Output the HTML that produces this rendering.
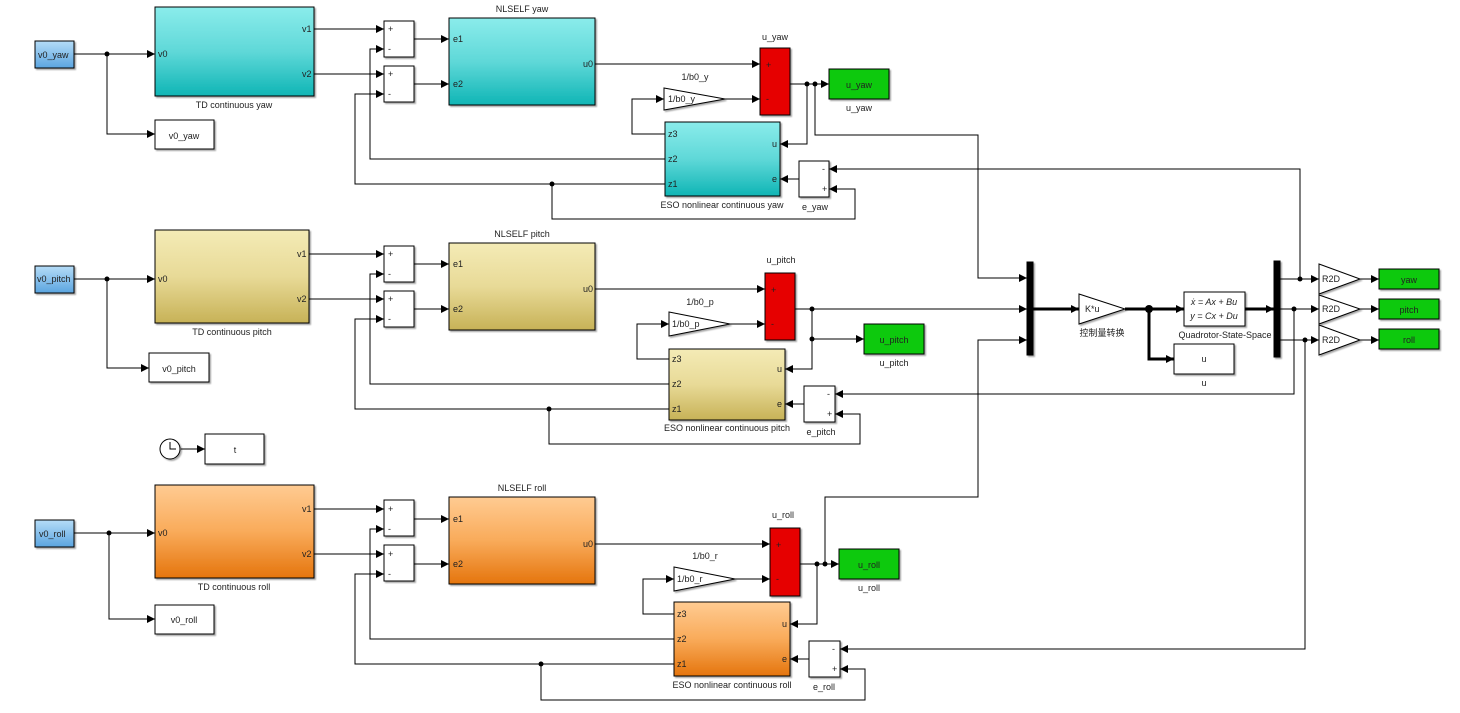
<!DOCTYPE html>
<html><head><meta charset="utf-8"><style>
html,body{margin:0;padding:0;background:#fff;width:1460px;height:713px;overflow:hidden}
svg text{font-family:"Liberation Sans","Noto Sans CJK SC",sans-serif;font-size:9px;fill:#222}
</style></head><body>
<svg width="1460" height="713" viewBox="0 0 1460 713" xmlns="http://www.w3.org/2000/svg">
<defs>
<marker id="a" markerUnits="userSpaceOnUse" markerWidth="9" markerHeight="9" refX="8" refY="4" orient="auto"><path d="M0,0 L8,4 L0,8 z" fill="#000"/></marker>
<linearGradient id="cy" x1="0" y1="0" x2="0" y2="1"><stop offset="0" stop-color="#8aeceb"/><stop offset="0.5" stop-color="#5fd8d8"/><stop offset="1" stop-color="#0fb5b5"/></linearGradient>
<linearGradient id="ye" x1="0" y1="0" x2="0" y2="1"><stop offset="0" stop-color="#f4ebb6"/><stop offset="0.5" stop-color="#e8da97"/><stop offset="1" stop-color="#c7b257"/></linearGradient>
<linearGradient id="or" x1="0" y1="0" x2="0" y2="1"><stop offset="0" stop-color="#ffcb92"/><stop offset="0.5" stop-color="#f9ab5a"/><stop offset="1" stop-color="#e5750d"/></linearGradient>
<linearGradient id="bl" x1="0" y1="0" x2="0" y2="1"><stop offset="0" stop-color="#b5dcf7"/><stop offset="1" stop-color="#5ba5e0"/></linearGradient>
<filter id="sh"><feDropShadow dx="1.5" dy="1.5" stdDeviation="0.8" flood-color="#000" flood-opacity="0.35"/></filter>
</defs>
<g stroke="#000" stroke-width="1" fill="none">
<!-- ===== YAW ===== -->
<path d="M74,54 H155" marker-end="url(#a)"/><path d="M107,54 V134 H155" marker-end="url(#a)"/>
<path d="M314,29 H384" marker-end="url(#a)"/><path d="M314,74 H384" marker-end="url(#a)"/>
<path d="M414,39 H449" marker-end="url(#a)"/><path d="M414,84 H449" marker-end="url(#a)"/>
<path d="M595,64 H760" marker-end="url(#a)"/>
<path d="M725,99 H760" marker-end="url(#a)"/>
<path d="M665,134 H632 V99 H664" marker-end="url(#a)"/>
<path d="M665,159 H370 V49 H384" marker-end="url(#a)"/>
<path d="M665,184 H355 V94 H384" marker-end="url(#a)"/>
<path d="M790,84 H829" marker-end="url(#a)"/>
<path d="M807,84 V144 H780" marker-end="url(#a)"/>
<path d="M815,84 V135 H978 V278 H1027" marker-end="url(#a)"/>
<path d="M799,179 H780" marker-end="url(#a)"/>
<path d="M552,184 V219 H855 V189 H829" marker-end="url(#a)"/>
<path d="M1300,279 V169 H829" marker-end="url(#a)"/>
<!-- ===== PITCH ===== -->
<path d="M74,279 H155" marker-end="url(#a)"/><path d="M107,279 V368 H149" marker-end="url(#a)"/>
<path d="M309,254 H384" marker-end="url(#a)"/><path d="M309,299 H384" marker-end="url(#a)"/>
<path d="M414,264 H449" marker-end="url(#a)"/><path d="M414,309 H449" marker-end="url(#a)"/>
<path d="M595,289 H765" marker-end="url(#a)"/>
<path d="M730,324 H765" marker-end="url(#a)"/>
<path d="M669,359 H637 V324 H669" marker-end="url(#a)"/>
<path d="M669,384 H370 V274 H384" marker-end="url(#a)"/>
<path d="M669,409 H355 V319 H384" marker-end="url(#a)"/>
<path d="M795,309 H1027" marker-end="url(#a)"/>
<path d="M812,309 V369 H785" marker-end="url(#a)"/>
<path d="M812,339 H864" marker-end="url(#a)"/>
<path d="M804,404 H785" marker-end="url(#a)"/>
<path d="M549,409 V444 H860 V414 H835" marker-end="url(#a)"/>
<path d="M1294,309 V394 H835" marker-end="url(#a)"/>
<!-- ===== ROLL ===== -->
<path d="M74,533 H155" marker-end="url(#a)"/><path d="M109,533 V619 H155" marker-end="url(#a)"/>
<path d="M314,509 H384" marker-end="url(#a)"/><path d="M314,554 H384" marker-end="url(#a)"/>
<path d="M414,519 H449" marker-end="url(#a)"/><path d="M414,564 H449" marker-end="url(#a)"/>
<path d="M595,544 H770" marker-end="url(#a)"/>
<path d="M735,579 H770" marker-end="url(#a)"/>
<path d="M674,614 H643 V579 H674" marker-end="url(#a)"/>
<path d="M674,639 H370 V529 H384" marker-end="url(#a)"/>
<path d="M674,664 H355 V574 H384" marker-end="url(#a)"/>
<path d="M800,564 H839" marker-end="url(#a)"/>
<path d="M817,564 V624 H790" marker-end="url(#a)"/>
<path d="M825,564 V497 H978 V340 H1027" marker-end="url(#a)"/>
<path d="M809,659 H790" marker-end="url(#a)"/>
<path d="M541,664 V700 H865 V669 H840" marker-end="url(#a)"/>
<path d="M1305,340 V649 H840" marker-end="url(#a)"/>
<!-- ===== RIGHT ===== -->
<path d="M1033,309 H1079" stroke-width="3" marker-end="url(#a)"/>
<path d="M1125,309 H1184" stroke-width="3" marker-end="url(#a)"/>
<path d="M1149,309 V359 H1174" stroke-width="3" marker-end="url(#a)"/>
<path d="M1245,309 H1274" stroke-width="3" marker-end="url(#a)"/>
<path d="M1280,279 H1319" marker-end="url(#a)"/>
<path d="M1280,309 H1319" marker-end="url(#a)"/>
<path d="M1280,340 H1319" marker-end="url(#a)"/>
<path d="M1360,279 H1379" marker-end="url(#a)"/>
<path d="M1360,309 H1379" marker-end="url(#a)"/>
<path d="M1360,340 H1379" marker-end="url(#a)"/>
<path d="M181,449 H205" marker-end="url(#a)"/>
</g>
<!-- junction dots -->
<g fill="#000">
<circle cx="107" cy="54" r="2.5"/><circle cx="807" cy="84" r="2.5"/><circle cx="815" cy="84" r="2.5"/><circle cx="552" cy="184" r="2.5"/>
<circle cx="107" cy="279" r="2.5"/><circle cx="812" cy="309" r="2.5"/><circle cx="812" cy="339" r="2.5"/><circle cx="549" cy="409" r="2.5"/>
<circle cx="109" cy="533" r="2.5"/><circle cx="817" cy="564" r="2.5"/><circle cx="825" cy="564" r="2.5"/><circle cx="541" cy="664" r="2.5"/>
<circle cx="1149" cy="309" r="4"/><circle cx="1300" cy="279" r="2.5"/><circle cx="1294" cy="309" r="2.5"/><circle cx="1305" cy="340" r="2.5"/>
</g>
<!-- blocks -->
<g stroke="#000" stroke-width="1" filter="url(#sh)">
<rect x="35" y="41" width="39" height="27" fill="url(#bl)"/>
<rect x="35" y="266" width="39" height="27" fill="url(#bl)"/>
<rect x="35" y="520" width="39" height="27" fill="url(#bl)"/>
<rect x="155" y="7" width="159" height="89" fill="url(#cy)"/>
<rect x="155" y="230" width="154" height="93" fill="url(#ye)"/>
<rect x="155" y="485" width="159" height="93" fill="url(#or)"/>
<rect x="155" y="120" width="59" height="29" fill="#fff"/>
<rect x="149" y="353" width="60" height="29" fill="#fff"/>
<rect x="155" y="605" width="59" height="29" fill="#fff"/>
<rect x="205" y="434" width="59" height="30" fill="#fff"/>
<rect x="384" y="21" width="30" height="36" fill="#fff"/><rect x="384" y="66" width="30" height="36" fill="#fff"/>
<rect x="384" y="246" width="30" height="36" fill="#fff"/><rect x="384" y="291" width="30" height="36" fill="#fff"/>
<rect x="384" y="500" width="30" height="36" fill="#fff"/><rect x="384" y="545" width="30" height="36" fill="#fff"/>
<rect x="449" y="18" width="146" height="87" fill="url(#cy)"/>
<rect x="449" y="243" width="146" height="87" fill="url(#ye)"/>
<rect x="449" y="497" width="146" height="87" fill="url(#or)"/>
<rect x="760" y="48" width="30" height="67" fill="#e60000"/>
<rect x="765" y="273" width="30" height="67" fill="#e60000"/>
<rect x="770" y="528" width="30" height="68" fill="#e60000"/>
<path d="M664,88 L725,99 L664,110 Z" fill="#fff"/>
<path d="M669,312 L730,324 L669,336 Z" fill="#fff"/>
<path d="M674,567 L735,579 L674,591 Z" fill="#fff"/>
<rect x="665" y="122" width="115" height="74" fill="url(#cy)"/>
<rect x="669" y="349" width="116" height="71" fill="url(#ye)"/>
<rect x="674" y="602" width="116" height="74" fill="url(#or)"/>
<rect x="799" y="161" width="30" height="36" fill="#fff"/>
<rect x="804" y="386" width="31" height="36" fill="#fff"/>
<rect x="809" y="641" width="31" height="36" fill="#fff"/>
<rect x="829" y="69" width="60" height="30" fill="#10c910"/>
<rect x="864" y="324" width="60" height="30" fill="#10c910"/>
<rect x="839" y="549" width="60" height="30" fill="#10c910"/>
<rect x="1027" y="262" width="6" height="93" fill="#000"/>
<path d="M1079,294 L1125,309 L1079,324 Z" fill="#fff"/>
<rect x="1184" y="292" width="61" height="34" fill="#fff"/>
<rect x="1174" y="344" width="60" height="30" fill="#fff"/>
<rect x="1274" y="261" width="6" height="96" fill="#000"/>
<path d="M1319,264 L1360,279 L1319,294 Z" fill="#fff"/>
<path d="M1319,295 L1360,309 L1319,324 Z" fill="#fff"/>
<path d="M1319,325 L1360,340 L1319,355 Z" fill="#fff"/>
<rect x="1379" y="269" width="60" height="20" fill="#10c910"/>
<rect x="1379" y="299" width="60" height="20" fill="#10c910"/>
<rect x="1379" y="329" width="60" height="20" fill="#10c910"/>
<circle cx="170" cy="449" r="10" fill="#fff"/>
</g>
<path d="M170,442 V449 H176" stroke="#000" fill="none"/>
<!-- text -->
<g>
<text x="38" y="58">v0_yaw</text><text x="37" y="282" font-size="8">v0_pitch</text><text x="39" y="537" font-size="8">v0_roll</text>
<text x="158" y="57">v0</text><text x="158" y="282">v0</text><text x="158" y="536">v0</text>
<text x="302" y="32">v1</text><text x="302" y="77">v2</text>
<text x="297" y="257">v1</text><text x="297" y="302">v2</text>
<text x="302" y="512">v1</text><text x="302" y="557">v2</text>
<text x="234" y="108" text-anchor="middle">TD continuous yaw</text>
<text x="232" y="335" text-anchor="middle">TD continuous pitch</text>
<text x="234" y="590" text-anchor="middle">TD continuous roll</text>
<text x="184" y="139" text-anchor="middle" font-size="11">v0_yaw</text>
<text x="179" y="372" text-anchor="middle" font-size="11">v0_pitch</text>
<text x="184" y="623" text-anchor="middle" font-size="11">v0_roll</text>
<text x="235" y="453" text-anchor="middle" font-size="11">t</text>
<g font-size="8"><text x="388" y="32">+</text><text x="388" y="52">-</text><text x="388" y="77">+</text><text x="388" y="97">-</text>
<text x="388" y="257">+</text><text x="388" y="277">-</text><text x="388" y="302">+</text><text x="388" y="322">-</text>
<text x="388" y="512">+</text><text x="388" y="532">-</text><text x="388" y="557">+</text><text x="388" y="577">-</text></g>
<text x="522" y="12" text-anchor="middle">NLSELF yaw</text><text x="522" y="237" text-anchor="middle">NLSELF pitch</text><text x="522" y="491" text-anchor="middle">NLSELF roll</text>
<text x="453" y="42">e1</text><text x="453" y="87">e2</text><text x="583" y="67">u0</text>
<text x="453" y="267">e1</text><text x="453" y="312">e2</text><text x="583" y="292">u0</text>
<text x="453" y="522">e1</text><text x="453" y="567">e2</text><text x="583" y="547">u0</text>
<text x="775" y="40" text-anchor="middle">u_yaw</text><text x="781" y="263" text-anchor="middle">u_pitch</text><text x="783" y="518" text-anchor="middle">u_roll</text>
<text x="695" y="80" text-anchor="middle">1/b0_y</text><text x="700" y="305" text-anchor="middle">1/b0_p</text><text x="705" y="559" text-anchor="middle">1/b0_r</text>
<text x="668" y="102">1/b0_y</text><text x="672" y="327">1/b0_p</text><text x="677" y="582">1/b0_r</text>
<text x="668" y="137">z3</text><text x="668" y="162">z2</text><text x="668" y="187">z1</text><text x="772" y="147">u</text><text x="772" y="182">e</text>
<text x="672" y="362">z3</text><text x="672" y="387">z2</text><text x="672" y="412">z1</text><text x="777" y="372">u</text><text x="777" y="407">e</text>
<text x="677" y="617">z3</text><text x="677" y="642">z2</text><text x="677" y="667">z1</text><text x="782" y="627">u</text><text x="782" y="662">e</text>
<text x="722" y="208" text-anchor="middle">ESO nonlinear continuous yaw</text>
<text x="727" y="431" text-anchor="middle">ESO nonlinear continuous pitch</text>
<text x="732" y="688" text-anchor="middle">ESO nonlinear continuous roll</text>
<g font-size="8"><text x="822" y="172">-</text><text x="822" y="192">+</text><text x="827" y="397">-</text><text x="827" y="417">+</text><text x="832" y="652">-</text><text x="832" y="672">+</text></g>
<text x="815" y="210" text-anchor="middle">e_yaw</text><text x="821" y="435" text-anchor="middle">e_pitch</text><text x="824" y="690" text-anchor="middle">e_roll</text>
<text x="859" y="88" text-anchor="middle" font-size="11">u_yaw</text><text x="894" y="343" text-anchor="middle" font-size="11">u_pitch</text><text x="869" y="568" text-anchor="middle" font-size="11">u_roll</text>
<text x="859" y="111" text-anchor="middle">u_yaw</text><text x="894" y="366" text-anchor="middle">u_pitch</text><text x="869" y="591" text-anchor="middle">u_roll</text>
<text x="766" y="68" font-size="7">+</text><text x="766" y="102" font-size="7">-</text>
<text x="771" y="293" font-size="7">+</text><text x="771" y="327" font-size="7">-</text>
<text x="776" y="548" font-size="7">+</text><text x="776" y="582" font-size="7">-</text>
<text x="1085" y="312">K*u</text>
<text x="1102" y="336" text-anchor="middle" fill="#666">控制量转换</text>
<text x="1214" y="305" text-anchor="middle" font-family="Liberation Serif,serif" font-size="8" font-style="italic">ẋ = Ax + Bu</text>
<text x="1214" y="319" text-anchor="middle" font-family="Liberation Serif,serif" font-size="8" font-style="italic">y = Cx + Du</text>
<text x="1225" y="338" text-anchor="middle">Quadrotor-State-Space</text>
<text x="1204" y="362" text-anchor="middle" font-size="11">u</text><text x="1204" y="386" text-anchor="middle">u</text>
<text x="1322" y="282">R2D</text><text x="1322" y="312">R2D</text><text x="1322" y="343">R2D</text>
<text x="1409" y="283" text-anchor="middle" font-size="11">yaw</text><text x="1409" y="313" text-anchor="middle" font-size="11">pitch</text><text x="1409" y="343" text-anchor="middle" font-size="11">roll</text>
</g>
</svg>
</body></html>
